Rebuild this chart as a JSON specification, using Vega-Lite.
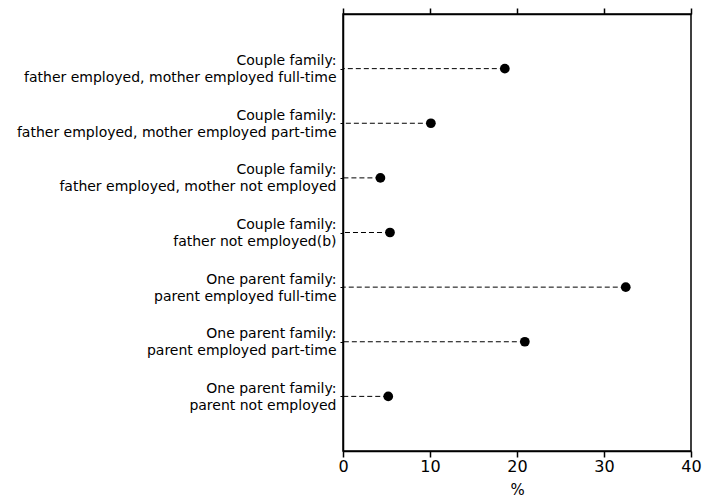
{
  "$schema": "https://vega.github.io/schema/vega-lite/v6.json",
  "autosize": {"type": "none"},
  "padding": {"left": 343, "top": 14, "right": 12, "bottom": 50},
  "width": 348,
  "height": 437,
  "background": "white",
  "config": {
    "view": {"stroke": "black", "strokeWidth": 1.5},
    "font": "DejaVu Sans",
    "axis": {"labelFont": "DejaVu Sans", "titleFont": "DejaVu Sans", "labelColor": "black", "titleColor": "black", "domainColor": "black", "tickColor": "black", "grid": false}
  },
  "data": {"values": [
    {"cat": "Couple family:\nfather employed, mother employed full-time", "value": 18.6},
    {"cat": "Couple family:\nfather employed, mother employed part-time", "value": 10.1},
    {"cat": "Couple family:\nfather employed, mother not employed", "value": 4.3},
    {"cat": "Couple family:\nfather not employed(b)", "value": 5.4},
    {"cat": "One parent family:\nparent employed full-time", "value": 32.5},
    {"cat": "One parent family:\nparent employed part-time", "value": 20.9},
    {"cat": "One parent family:\nparent not employed", "value": 5.2}
  ]},
  "layer": [
    {
      "mark": {"type": "rule", "color": "black", "strokeWidth": 1, "strokeDash": [5, 3]},
      "encoding": {
        "y": {
          "field": "cat", "type": "nominal", "sort": null,
          "scale": {"type": "point", "padding": 1},
          "axis": {"title": null, "labelExpr": "split(datum.label, '\\n')", "labelFontSize": 14, "labelLineHeight": 17, "labelBaseline": "middle", "labelOffset": -8, "labelPadding": 4, "tickSize": 3, "domainWidth": 1.5, "labelLimit": 400}
        },
        "x": {"field": "value", "type": "quantitative", "scale": {"domain": [0, 40]}, "axis": {"orient": "bottom", "title": "%", "values": [0, 10, 20, 30, 40], "labelFlush": false, "labelFontSize": 16, "titleFontSize": 15, "titleFontWeight": "normal", "tickSize": 6, "domainWidth": 1.5, "tickWidth": 1.5, "labelPadding": 1, "titlePadding": 8}},
        "x2": {"datum": 0}
      }
    },
    {
      "mark": {"type": "circle", "color": "black", "opacity": 1, "size": 95},
      "encoding": {
        "y": {"field": "cat", "type": "nominal", "sort": null},
        "x": {"field": "value", "type": "quantitative", "axis": {"orient": "top", "title": null, "labels": false, "values": [0, 10, 20, 30, 40], "tickSize": 6, "tickWidth": 1.5, "domainWidth": 1.5}}
      }
    }
  ],
  "resolve": {"axis": {"x": "independent"}}
}
